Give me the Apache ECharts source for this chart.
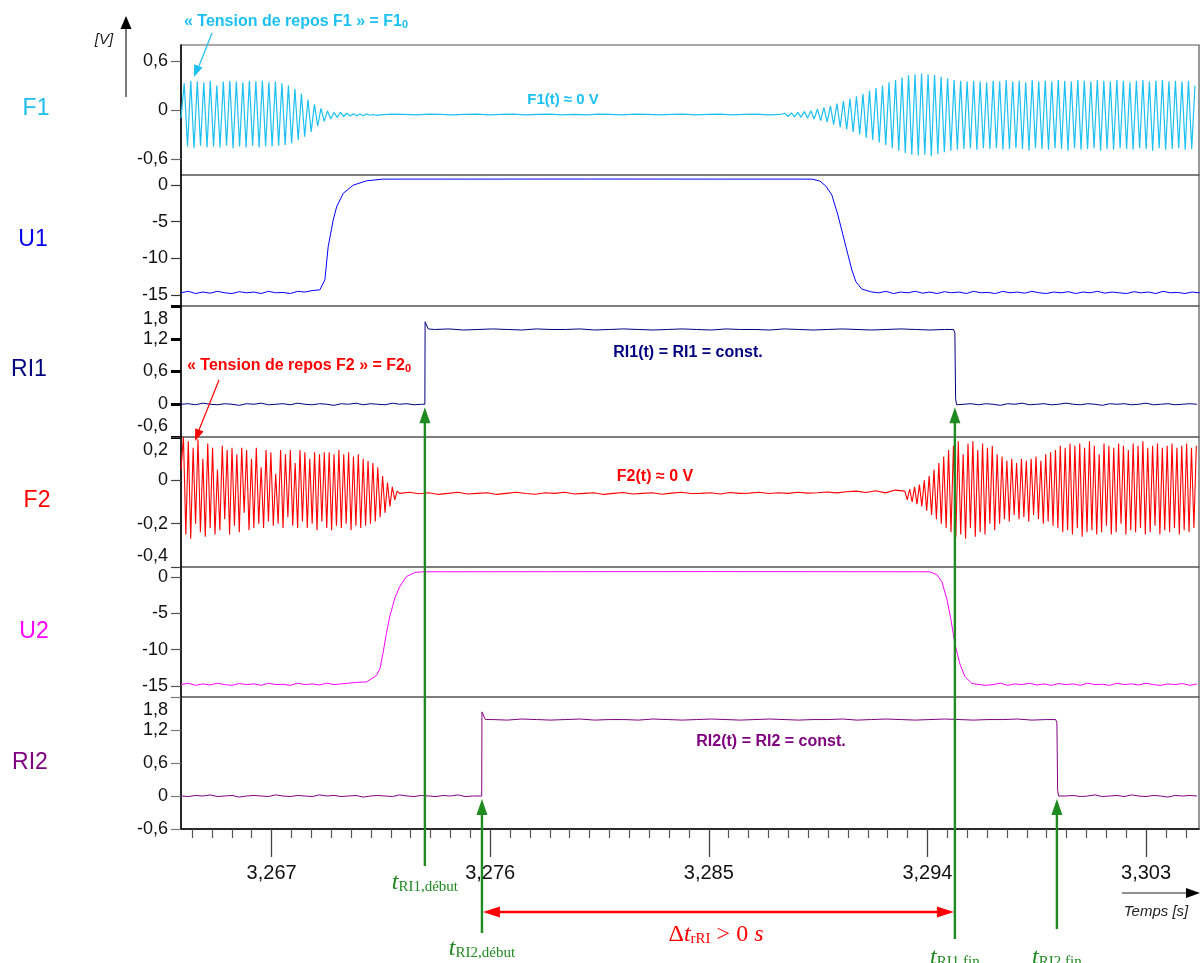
<!DOCTYPE html>
<html><head><meta charset="utf-8">
<script src="https://cdn.jsdelivr.net/npm/echarts@6/dist/echarts.min.js"></script>
<style>html,body{margin:0;padding:0;background:#fff}#c{width:1201px;height:963px}</style>
</head><body><div id="c"></div>
<script>
// ================= DATA =================
const X_MIN = 3.26327, X_MAX = 3.30518;
const xTickValues = [3.267, 3.276, 3.285, 3.294, 3.303];
const panelNames = ['F1', 'U1', 'RI1', 'F2', 'U2', 'RI2'];

// F1 (V) : left oscillation, flat middle, right oscillation
const f1LeftT0 = 3.26327, f1Step = 0.000134;
const f1Left = [-0.1,0.33,-0.45,0.36,-0.47,0.35,-0.44,0.34,-0.46,0.36,
  -0.45,0.3,-0.46,0.35,-0.44,0.36,-0.47,0.35,-0.45,0.34,
  -0.46,0.36,-0.44,0.35,-0.46,0.36,-0.45,0.34,-0.45,0.35,
  -0.44,0.33,-0.43,0.3,-0.41,0.26,-0.37,0.2,-0.33,0.13,
  -0.27,0.07,-0.2,0.02,-0.14,-0.01,-0.11,-0.03,-0.09,-0.03,
  -0.08,-0.04,-0.075,-0.045,-0.07,-0.05,-0.07,-0.05,-0.065,-0.055,-0.065];
const f1MidT0 = 3.27145, f1MidStep = 0.0005;
const f1Mid = [-0.06,-0.05,-0.055,-0.06,-0.05,-0.055,-0.06,-0.055,-0.05,-0.06,
  -0.055,-0.05,-0.06,-0.055,-0.05,-0.06,-0.055,-0.06,-0.05,-0.055,
  -0.06,-0.05,-0.055,-0.06,-0.055,-0.05,-0.06,-0.055,-0.05,-0.06,
  -0.055,-0.05,-0.06,-0.055];
const f1RightT0 = 3.28813;
const f1Right = [-0.04,-0.08,-0.035,-0.085,-0.03,-0.09,-0.02,-0.1,-0.01,-0.11,
  0.01,-0.13,0.03,-0.15,0.05,-0.18,0.08,-0.21,0.11,-0.24,
  0.14,-0.27,0.17,-0.3,0.2,-0.34,0.24,-0.37,0.27,-0.4,
  0.3,-0.43,0.34,-0.47,0.37,-0.5,0.4,-0.53,0.43,-0.55,
  0.44,-0.56,0.45,-0.55,0.44,-0.57,0.43,-0.54,0.41,-0.52,
  0.39,-0.5,0.37,-0.49,0.36,-0.48,0.35,-0.47,0.36,-0.49,
  0.35,-0.47,0.34,-0.48,0.36,-0.47,0.35,-0.49,0.37,-0.48,
  0.35,-0.47,0.36,-0.48,0.34,-0.5,0.37,-0.47,0.35,-0.48,
  0.36,-0.49,0.35,-0.47,0.37,-0.48,0.36,-0.5,0.35,-0.47,
  0.37,-0.49,0.36,-0.48,0.35,-0.47,0.37,-0.5,0.36,-0.48,
  0.35,-0.49,0.37,-0.47,0.36,-0.48,0.34,-0.49,0.36,-0.47,
  0.37,-0.48,0.35,-0.5,0.36,-0.47,0.37,-0.49,0.35,-0.48,
  0.36,-0.47,0.35,-0.49,0.36,-0.48,0.3];

// U1 (V)
const u1LowLeftT0 = 3.26327, uStep = 0.0003;
const u1LowLeft = [-14.7,-14.5,-14.8,-14.6,-14.75,-14.5,-14.7,-14.8,-14.55,-14.7,
  -14.6,-14.8,-14.5,-14.7,-14.65,-14.8,-14.5,-14.6,-14.4];
const u1Rise = [[3.268988,-14.3],[3.269194,-12.9],[3.26933,-8.4],[3.269536,-4.8],[3.269676,-3.0],
  [3.269948,-1.15],[3.270359,-0.03],[3.270911,0.56],[3.271582,0.79],[3.28,0.8],[3.289244,0.79]];
const u1Fall = [[3.289573,0.52],[3.28982,-0.16],[3.290067,-1.39],[3.290314,-4.1],[3.29052,-6.8],
  [3.290726,-9.5],[3.29089,-11.6],[3.291055,-13.2],[3.291302,-14.2],[3.291714,-14.6]];
const u1LowRightT0 = 3.2920;
const u1LowRight = [-14.7,-14.5,-14.8,-14.6,-14.7,-14.5,-14.75,-14.6,-14.8,-14.55,
  -14.7,-14.6,-14.8,-14.5,-14.7,-14.65,-14.8,-14.5,-14.7,-14.6,
  -14.75,-14.5,-14.7,-14.8,-14.6,-14.7,-14.55,-14.8,-14.6,-14.7,
  -14.5,-14.75,-14.6,-14.7,-14.8,-14.55,-14.7,-14.6,-14.8,-14.5,
  -14.7,-14.65,-14.8,-14.6,-14.7];

// RI1 (V)
const ri1LowLeftT0 = 3.26327, riStep = 0.0003;
const ri1LowLeft = [0,0.01,-0.01,0.02,0,-0.01,0.01,0,-0.02,0.01,
  0,0.02,-0.01,0,0.01,-0.01,0.02,0,-0.01,0.01,
  0,-0.02,0.01,0,0.02,-0.01,0.01,0,-0.01,0.02,
  0,0.01,-0.01,0];
const ri1Rise = [[3.27331,0],[3.27332,1.51],[3.27345,1.38]];
const ri1HighT0 = 3.2737, riHighStep = 0.0006;
const ri1High = [1.37,1.38,1.36,1.37,1.38,1.37,1.36,1.38,1.37,1.37,
  1.38,1.36,1.37,1.38,1.37,1.36,1.37,1.38,1.37,1.36,
  1.38,1.37,1.37,1.36,1.38,1.37,1.36,1.37,1.38,1.37,
  1.36,1.37,1.38,1.37,1.36,1.37];
const ri1Fall = [[3.29508,1.37],[3.29513,1.3],[3.29516,0.1],[3.2952,-0.01]];
const ri1LowRightT0 = 3.2955;
const ri1LowRight = [0,0.01,-0.01,0.01,0,-0.02,0.01,0,0.02,-0.01,
  0,0.01,-0.01,0,0.02,0,-0.01,0.01,0,-0.02,
  0.01,0,0.01,-0.01,0,0.02,-0.01,0,0.01,-0.01,
  0,0.01,0];

// F2 (V)
const f2LeftT0 = 3.26327, f2Step = 0.0001;
const f2Left = [0.05,0.2,-0.25,0.18,-0.27,0.15,-0.2,0.19,-0.24,0.1,
  -0.26,0.17,-0.22,0.15,-0.25,0.05,-0.23,0.16,-0.18,0.14,
  -0.25,0.15,-0.21,0.12,-0.24,0.15,-0.15,0.14,-0.23,0.1,
  -0.22,0.15,-0.2,0.06,-0.22,0.14,-0.19,0.13,-0.21,0.03,
  -0.2,0.14,-0.22,0.12,-0.17,0.14,-0.21,0.08,-0.22,0.14,
  -0.19,0.13,-0.22,0.1,-0.2,0.13,-0.23,0.12,-0.19,0.13,
  -0.22,0.13,-0.23,0.12,-0.21,0.14,-0.22,0.12,-0.2,0.13,
  -0.23,0.11,-0.21,0.12,-0.22,0.1,-0.21,0.09,-0.2,0.08,
  -0.19,0.06,-0.17,0.02,-0.15,-0.01,-0.12,-0.03,-0.09,-0.05];
const f2MidT0 = 3.27227, f2MidStep = 0.0004;
const f2Mid = [-0.06,-0.055,-0.062,-0.057,-0.065,-0.06,-0.055,-0.063,-0.06,-0.057,
  -0.065,-0.06,-0.055,-0.061,-0.064,-0.057,-0.06,-0.055,-0.063,-0.06,
  -0.057,-0.065,-0.06,-0.056,-0.063,-0.06,-0.057,-0.064,-0.059,-0.055,
  -0.061,-0.06,-0.057,-0.063,-0.056,-0.06,-0.059,-0.055,-0.061,-0.057,
  -0.06,-0.055,-0.059,-0.057,-0.054,-0.058,-0.053,-0.05,-0.056,-0.048,
  -0.058,-0.045];
const f2RightT0 = 3.29307;
const f2Right = [-0.05,-0.09,-0.04,-0.1,-0.03,-0.11,-0.02,-0.12,0.0,-0.14,
  0.02,-0.16,0.05,-0.18,0.08,-0.2,0.11,-0.22,0.14,-0.24,
  0.16,-0.26,0.18,-0.25,0.12,-0.27,0.17,-0.22,0.18,-0.26,
  0.14,-0.24,0.17,-0.25,0.15,-0.2,0.16,-0.23,0.12,-0.2,
  0.11,-0.18,0.09,-0.19,0.1,-0.16,0.08,-0.18,0.1,-0.17,
  0.09,-0.19,0.1,-0.16,0.11,-0.18,0.09,-0.2,0.12,-0.19,
  0.13,-0.21,0.14,-0.22,0.16,-0.24,0.15,-0.23,0.17,-0.25,
  0.16,-0.22,0.17,-0.26,0.15,-0.24,0.18,-0.23,0.16,-0.25,
  0.12,-0.24,0.17,-0.21,0.16,-0.25,0.15,-0.24,0.17,-0.2,
  0.16,-0.25,0.14,-0.23,0.17,-0.24,0.16,-0.22,0.18,-0.25,
  0.15,-0.24,0.16,-0.21,0.17,-0.25,0.15,-0.23,0.16,-0.24,
  0.17,-0.22,0.15,-0.25,0.16,-0.23,0.17,-0.24,0.15,-0.22,0.16];

// U2 (V)
const u2LowLeftT0 = 3.26327;
const u2LowLeft = [-14.8,-14.6,-14.9,-14.7,-14.85,-14.6,-14.8,-14.9,-14.65,-14.8,
  -14.7,-14.9,-14.6,-14.8,-14.75,-14.9,-14.6,-14.8,-14.7,-14.85,
  -14.6,-14.8,-14.7,-14.6,-14.5,-14.45];
const u2Rise = [[3.270911,-14.43],[3.271323,-13.53],[3.271459,-12.62],[3.271594,-10.35],[3.271734,-7.64],
  [3.27187,-5.38],[3.272076,-2.88],[3.272282,-1.3],[3.272558,0.05],[3.2729,0.6],[3.273241,0.69],
  [3.285,0.72],[3.294102,0.69]];
const u2Fall = [[3.29439,0.29],[3.294596,-0.67],[3.294802,-3.1],[3.294966,-5.83],[3.295131,-9.2],
  [3.295337,-11.97],[3.295543,-13.7],[3.295831,-14.64],[3.296366,-14.9]];
const u2LowRightT0 = 3.2967;
const u2LowRight = [-14.8,-14.6,-14.9,-14.7,-14.8,-14.6,-14.85,-14.7,-14.9,-14.65,
  -14.8,-14.7,-14.9,-14.6,-14.8,-14.75,-14.9,-14.6,-14.8,-14.7,
  -14.85,-14.6,-14.8,-14.9,-14.7,-14.8,-14.65,-14.9,-14.7];

// RI2 (V)
const ri2LowLeftT0 = 3.26327;
const ri2LowLeft = [0,-0.01,0.01,0,0.02,-0.01,0,0.01,-0.02,0,
  0.01,0,-0.01,0.02,0,-0.01,0.01,0,-0.01,0.02,
  0,0.01,-0.01,0,0.01,-0.02,0,0.01,0,-0.01,
  0.02,0,-0.01,0.01,0,-0.01,0.01,0,0.02,-0.01,0];
const ri2Rise = [[3.27565,0],[3.27566,1.53],[3.2758,1.39]];
const ri2HighT0 = 3.2761;
const ri2High = [1.39,1.38,1.4,1.39,1.38,1.39,1.4,1.38,1.39,1.39,
  1.38,1.4,1.39,1.38,1.39,1.4,1.39,1.38,1.39,1.4,
  1.39,1.38,1.39,1.39,1.4,1.38,1.39,1.4,1.39,1.38,
  1.39,1.4,1.39,1.38,1.39,1.39,1.4,1.38,1.39];
const ri2Fall = [[3.29928,1.39],[3.29933,1.33],[3.29936,0.1],[3.2994,0]];
const ri2LowRightT0 = 3.2997;
const ri2LowRight = [0,0.01,-0.01,0,0.02,-0.01,0,0.01,-0.01,0.02,
  0,-0.01,0.01,0,-0.02,0.01,0,0.01,0];

// Event times (s) for annotation arrows
const eventTimes = [3.27331, 3.27566, 3.29513, 3.29933];
const eventNames = ['RI1,début', 'RI2,début', 'RI1,fin', 'RI2,fin'];
const eventPanel = [2, 5, 2, 5];

// ================= BUILD =================
const seq = (t0, dt, vals) => vals.map((v, i) => [t0 + i * dt, v]);
const seriesData = [
  seq(f1LeftT0, f1Step, f1Left).concat(seq(f1MidT0, f1MidStep, f1Mid), seq(f1RightT0, f1Step, f1Right)),
  seq(u1LowLeftT0, uStep, u1LowLeft).concat(u1Rise, u1Fall, seq(u1LowRightT0, uStep, u1LowRight)),
  seq(ri1LowLeftT0, riStep, ri1LowLeft).concat(ri1Rise, seq(ri1HighT0, riHighStep, ri1High), ri1Fall, seq(ri1LowRightT0, riStep, ri1LowRight)),
  seq(f2LeftT0, f2Step, f2Left).concat(seq(f2MidT0, f2MidStep, f2Mid), seq(f2RightT0, f2Step, f2Right)),
  seq(u2LowLeftT0, uStep, u2LowLeft).concat(u2Rise, u2Fall, seq(u2LowRightT0, uStep, u2LowRight)),
  seq(ri2LowLeftT0, riStep, ri2LowLeft).concat(ri2Rise, seq(ri2HighT0, riHighStep, ri2High), ri2Fall, seq(ri2LowRightT0, riStep, ri2LowRight))
];

const SANS = '"Liberation Sans", Arial, sans-serif';
const SERIF = '"Liberation Serif", "DejaVu Serif", serif';
const CYAN = '#1cc0f2';
const GREEN = '#1f8a1f';
const lineColors = [CYAN, '#0000ff', '#000080', '#ff0000', '#ff00ff', '#800080'];
const lineWidths = [1.2, 1, 1, 1.1, 1, 1];
const labelColors = ['#1dbdf0', '#0000ee', '#000080', '#ff0000', '#ff00ff', '#800080'];

const panels = [
  { top: 45, h: 130, min: -0.8, max: 0.8, ticks: [-0.6, 0, 0.6], tc: '#666', tw: 1.2 },
  { top: 175, h: 131, min: -16.5, max: 1.35, ticks: [-15, -10, -5, 0], tc: '#333', tw: 1.2 },
  { top: 306, h: 131, min: -0.6, max: 1.8, ticks: [-0.6, 0, 0.6, 1.2, 1.8], tc: '#000', tw: 3, dn: 1.8, up: -0.6 },
  { top: 437, h: 130, min: -0.4, max: 0.2, ticks: [-0.4, -0.2, 0, 0.2], tc: '#444', tw: 1.2, dn: 0.2, up: -0.4 },
  { top: 567, h: 130, min: -16.5, max: 1.35, ticks: [-15, -10, -5, 0], tc: '#555', tw: 1.2 },
  { top: 697, h: 132, min: -0.6, max: 1.8, ticks: [-0.6, 0, 0.6, 1.2, 1.8], tc: '#777', tw: 1.2, dn: 1.8 }
];

const fmt = v => String(Math.round(v * 10) / 10).replace('.', ',');
const minorTicks = [];
for (let i = -6; i <= 60; i++) {
  const v = 3.267 + i * 0.009 / 11;
  if (v > X_MIN && v < X_MAX && i % 11 !== 0) minorTicks.push(v);
}

const labelRich = {
  dn: { padding: [26, 0, 0, 0], fontSize: 18, fontFamily: SANS, color: '#111' },
  up: { padding: [0, 0, 22, 0], fontSize: 18, fontFamily: SANS, color: '#111' }
};

const grids = panels.map(p => ({ left: 181, right: 2, top: p.top, height: p.h, show: true, borderColor: '#555', borderWidth: 1.2, backgroundColor: 'transparent' }));
const xAxes = panels.map((p, i) => {
  if (i < 5) return { type: 'value', gridIndex: i, min: X_MIN, max: X_MAX, show: false };
  return {
    type: 'value', gridIndex: i, min: X_MIN, max: X_MAX, position: 'bottom',
    axisLine: { show: true, onZero: false, lineStyle: { color: '#000', width: 1.5 } },
    axisTick: { show: true, customValues: xTickValues, length: 28, lineStyle: { color: '#444', width: 1.3 } },
    axisLabel: { show: true, customValues: xTickValues, margin: 34, fontSize: 20, fontFamily: SANS, color: '#111',
      formatter: v => v.toFixed(3).replace('.', ',') },
    splitLine: { show: false }
  };
});
xAxes.push({
  type: 'value', gridIndex: 5, min: X_MIN, max: X_MAX, position: 'bottom',
  axisLine: { show: false, onZero: false },
  axisTick: { show: true, customValues: minorTicks, length: 9, lineStyle: { color: '#555', width: 1.2 } },
  axisLabel: { show: false }, splitLine: { show: false }
});
const yAxes = panels.map((p, i) => ({
  type: 'value', gridIndex: i, min: p.min, max: p.max,
  axisLine: { show: true, onZero: false, lineStyle: { color: '#000', width: 1.5 } },
  axisTick: { show: true, customValues: p.ticks, length: 10, lineStyle: { color: p.tc, width: p.tw } },
  axisLabel: { show: true, customValues: p.ticks, margin: 13, fontSize: 18, fontFamily: SANS, color: '#111',
    formatter: v => {
      const s = fmt(v);
      if (p.dn !== undefined && Math.abs(v - p.dn) < 1e-9) return '{dn|' + s + '}';
      if (p.up !== undefined && Math.abs(v - p.up) < 1e-9) return '{up|' + s + '}';
      return s;
    }, rich: labelRich },
  splitLine: { show: false }
}));
const series = seriesData.map((d, i) => ({
  type: 'line', xAxisIndex: i, yAxisIndex: i, data: d, showSymbol: false, symbol: 'none',
  lineStyle: { width: lineWidths[i], color: lineColors[i] }, color: lineColors[i], silent: true, animation: false, clip: true
}));

const chart = echarts.init(document.getElementById('c'), null, { renderer: 'canvas' });
chart.setOption({ animation: false, grid: grids, xAxis: xAxes, yAxis: yAxes, series: series });

// ================= ANNOTATIONS =================
const px = t => chart.convertToPixel({ xAxisIndex: 5 }, t);
const py = (ai, v) => chart.convertToPixel({ yAxisIndex: ai }, v);
const G = [];
function seg(x1, y1, x2, y2, color, w) { G.push({ type: 'line', z: 100, silent: true, shape: { x1, y1, x2, y2 }, style: { stroke: color, lineWidth: w } }); }
function head(tx, ty, dx, dy, len, hw, color) {
  const n = Math.hypot(dx, dy), ux = dx / n, uy = dy / n, bx = tx - ux * len, by = ty - uy * len;
  G.push({ type: 'polygon', z: 101, silent: true, shape: { points: [[tx, ty], [bx - uy * hw, by + ux * hw], [bx + uy * hw, by - ux * hw]] }, style: { fill: color } });
}
function txt(x, y, text, style) {
  G.push({ type: 'text', z: 102, silent: true, x, y, style: Object.assign({ text, align: 'center', verticalAlign: 'middle' }, style) });
}

// panel names
const nameXY = [[36, 109], [33, 240], [29, 370], [37, 501], [34, 632], [30, 763]];
panelNames.forEach((n, i) => txt(nameXY[i][0], nameXY[i][1], n, { fill: labelColors[i], font: '23px ' + SANS }));

// unit axis arrow + [V]
seg(126, 97, 126, 26, '#222', 1.2);
head(126, 16, 0, -1, 13, 5.5, '#000');
txt(104, 40, '[V]', { fill: '#222', font: 'italic 15px ' + SANS });
// time arrow
seg(1122, 893, 1190, 893, '#222', 1.2);
head(1200, 893, 1, 0, 14, 5, '#000');
txt(1156, 912, 'Temps [s]', { fill: '#222', font: 'italic 15px ' + SANS });

// in-plot annotations
const boldRich = (c, fs) => ({ a: { fill: c, color: c, fontSize: fs, fontWeight: 'bold', fontFamily: SANS },
  s: { fill: c, color: c, fontSize: 11, fontWeight: 'bold', fontFamily: SANS, verticalAlign: 'bottom', lineHeight: 8 } });
txt(184, 22, '{a|« Tension de repos F1 » = F1}{s|0}', { align: 'left', rich: boldRich(CYAN, 16) });
seg(212, 33, 199, 66, CYAN, 1.2); head(194, 77, -17, 44, 12, 4.5, CYAN);
txt(187, 366, '{a|« Tension de repos F2 » = F2}{s|0}', { align: 'left', rich: boldRich('#ff0000', 16) });
seg(219, 380, 199, 430, '#ff0000', 1.2); head(195, 441, -24, 61, 12, 4.5, '#ff0000');
txt(563, 100, 'F1(t) ≈ 0 V', { fill: CYAN, font: 'bold 15px ' + SANS });
txt(655, 477, 'F2(t) ≈ 0 V', { fill: '#ff0000', font: 'bold 16px ' + SANS });
txt(688, 353, 'RI1(t) = RI1 = const.', { fill: '#000080', font: 'bold 16px ' + SANS });
txt(771, 742, 'RI2(t) = RI2 = const.', { fill: '#800080', font: 'bold 16px ' + SANS });

// green event arrows
const eventBottom = [866, 933, 939, 929];
const eventLabelY = [883, 949, 958, 958];
eventTimes.forEach((t, i) => {
  const x = px(t);
  const tipY = py(eventPanel[i], 0) + 3;
  seg(x, eventBottom[i], x, tipY + 12, GREEN, 2.4);
  head(x, tipY, 0, -1, 16, 5.5, GREEN);
  const rich = { t: { fill: GREEN, color: GREEN, fontSize: 24, fontStyle: 'italic', fontFamily: SERIF },
    s: { fill: GREEN, color: GREEN, fontSize: 15, fontFamily: SERIF, verticalAlign: 'bottom', lineHeight: 9 } };
  txt(x, eventLabelY[i], '{t|t}{s|' + eventNames[i] + '}', { rich });
});
// red double arrow between tRI2,début and tRI1,fin
const xa = px(eventTimes[1]), xb = px(eventTimes[2]), yr = 912;
seg(xa + 12, yr, xb - 12, yr, '#ff0000', 2.4);
head(xa + 1, yr, -1, 0, 17, 5.5, '#ff0000');
head(xb - 1, yr, 1, 0, 17, 5.5, '#ff0000');
const redRich = { n: { fill: '#ff0000', color: '#ff0000', fontSize: 24, fontFamily: SERIF },
  i: { fill: '#ff0000', color: '#ff0000', fontSize: 24, fontStyle: 'italic', fontFamily: SERIF },
  s: { fill: '#ff0000', color: '#ff0000', fontSize: 15, fontFamily: SERIF, verticalAlign: 'bottom', lineHeight: 9 } };
txt(716, 935, '{n|Δ}{i|t}{s|rRI}{n| > 0 }{i|s}', { rich: redRich });

chart.setOption({ graphic: { elements: G } });
</script></body></html>
